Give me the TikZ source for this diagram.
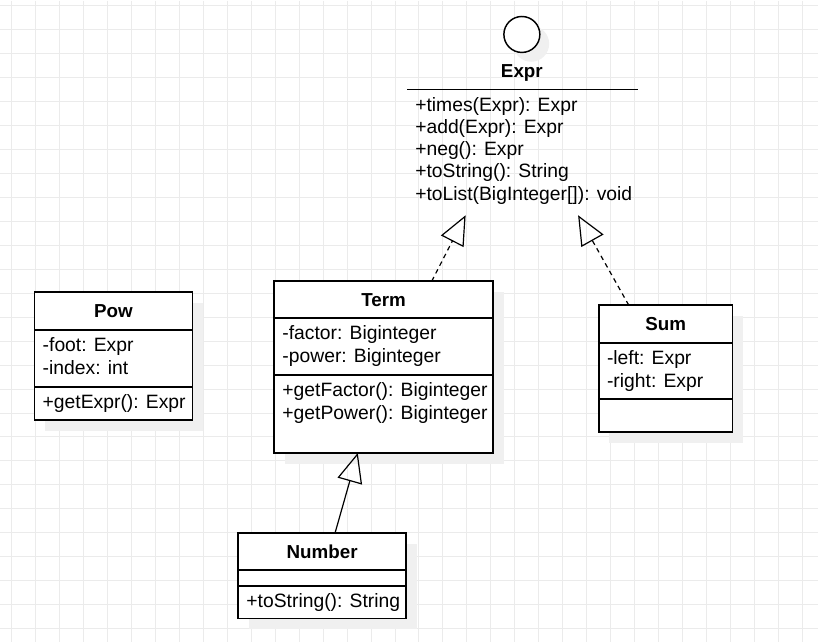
\documentclass[tikz,border=0pt]{standalone}
\usepackage{fontspec}
\setmainfont{Liberation Sans}
\usetikzlibrary{arrows.meta,positioning,shadows}
\definecolor{GridGray}{HTML}{EBEBEB}
\definecolor{ShadowGray}{HTML}{F0F0F0}

\begin{document}
\begin{tikzpicture}[
  x=0.75pt, y=-0.75pt,
  gridline/.style={GridGray, line width=0.75pt},
  frame/.style={draw, line width=1.1pt, fill=white, anchor=north west, inner sep=0pt, outer sep=0pt,
    drop shadow={shadow xshift=8pt, shadow yshift=-8pt, fill=ShadowGray, opacity=1}},
  part/.style={draw, line width=1.1pt, anchor=north west, inner sep=0pt, outer sep=0pt},
  iface/.style={circle, draw, line width=1.1pt, fill=white, minimum size=27pt, inner sep=0pt,
    drop shadow={shadow xshift=7pt, shadow yshift=-7pt, fill=ShadowGray, opacity=1}},
  title/.style={anchor=base, inner sep=0pt, font=\fontsize{14.1pt}{17pt}\selectfont\bfseries},
  member/.style={anchor=base west, inner sep=0pt, font=\fontsize{14.5pt}{17pt}\selectfont},
  realize/.style={-{Triangle[open, length=22pt, width=19pt]}, line width=0.9pt, dash pattern=on 3.5pt off 3pt},
  inherit/.style={-{Triangle[open, length=22pt, width=19pt]}, line width=0.9pt}
]
% grid
\foreach \gx in {11,35,...,815} \draw[gridline] (\gx,0) -- (\gx,642);
\foreach \gy in {5,29,...,641} \draw[gridline] (0,\gy) -- (818,\gy);
\useasboundingbox (0,0) rectangle (818,642);

% Expr interface
\node[iface] (exprc) at (522,34) {};
\node[title] (exprname) at (522,76.7) {Expr};
\node[anchor=north west, minimum width=173.25pt, minimum height=94.5pt, inner sep=0pt, outer sep=0pt] (exprbox) at (407,89) {};
\draw[line width=1.1pt] (exprbox.north west) -- (exprbox.north east);
\node[member] (exprtimes) at ([shift={(8,21.7)}]exprbox.north west) {+times(Expr): Expr};
\node[member] (expradd) at ([shift={(0,22.3)}]exprtimes.base west) {+add(Expr): Expr};
\node[member] (exprneg) at ([shift={(0,22.3)}]expradd.base west) {+neg(): Expr};
\node[member] (exprstr) at ([shift={(0,22.3)}]exprneg.base west) {+toString(): String};
\node[member] (exprlist) at ([shift={(0,22.3)}]exprstr.base west) {+toList(BigInteger[]): void};

% Pow
\node[frame, minimum width=118.5pt, minimum height=96pt] (pow) at (34,292) {};
\node[part, minimum width=118.5pt, minimum height=28.5pt] (powhead) at (pow.north west) {};
\node[part, minimum width=118.5pt, minimum height=42.75pt] (powattr) at (powhead.south west) {};
\node[title] (powname) at ([shift={(0,25.5)}]powhead.north) {Pow};
\node[member] (powfoot) at ([shift={(8,21.7)}]powattr.north west) {-foot: Expr};
\node[member] (powindex) at ([shift={(0,22.5)}]powfoot.base west) {-index: int};
\node[member] (powget) at ([shift={(8,21.7)}]powattr.south west) {+getExpr(): Expr};

% Term
\node[frame, minimum width=164.25pt, minimum height=129pt] (term) at (274,281) {};
\node[part, minimum width=164.25pt, minimum height=27.75pt] (termhead) at (term.north west) {};
\node[part, minimum width=164.25pt, minimum height=42.75pt] (termattr) at (termhead.south west) {};
\node[title] (termname) at ([shift={(0,25.5)}]termhead.north) {Term};
\node[member] (termfactor) at ([shift={(8,21.7)}]termattr.north west) {-factor: Biginteger};
\node[member] (termpower) at ([shift={(0,22.5)}]termfactor.base west) {-power: Biginteger};
\node[member] (termgetf) at ([shift={(8,21.7)}]termattr.south west) {+getFactor(): Biginteger};
\node[member] (termgetp) at ([shift={(0,22.5)}]termgetf.base west) {+getPower(): Biginteger};

% Sum
\node[frame, minimum width=100.5pt, minimum height=95.25pt] (sum) at (599,305) {};
\node[part, minimum width=100.5pt, minimum height=28.5pt] (sumhead) at (sum.north west) {};
\node[part, minimum width=100.5pt, minimum height=42pt] (sumattr) at (sumhead.south west) {};
\node[title] (sumname) at ([shift={(0,25.5)}]sumhead.north) {Sum};
\node[member] (sumleft) at ([shift={(8,21.7)}]sumattr.north west) {-left: Expr};
\node[member] (sumright) at ([shift={(0,22.5)}]sumleft.base west) {-right: Expr};

% Number
\node[frame, minimum width=126pt, minimum height=64.5pt] (number) at (238,533) {};
\node[part, minimum width=126pt, minimum height=27.75pt] (numberhead) at (number.north west) {};
\node[part, minimum width=126pt, minimum height=12pt] (numberattr) at (numberhead.south west) {};
\node[title] (numbername) at ([shift={(0,25.5)}]numberhead.north) {Number};
\node[member] (numberstr) at ([shift={(8,21.7)}]numberattr.south west) {+toString(): String};

% relations
\draw[realize] ([xshift=36.2pt]term.north) -- ([xshift=-42.6pt]exprbox.south);
\draw[realize] ([xshift=-27.75pt]sum.north) -- ([xshift=41.85pt]exprbox.south);
\draw[inherit] ([xshift=9.75pt]number.north) -- ([xshift=-19.35pt]term.south);
\end{tikzpicture}
\end{document}
